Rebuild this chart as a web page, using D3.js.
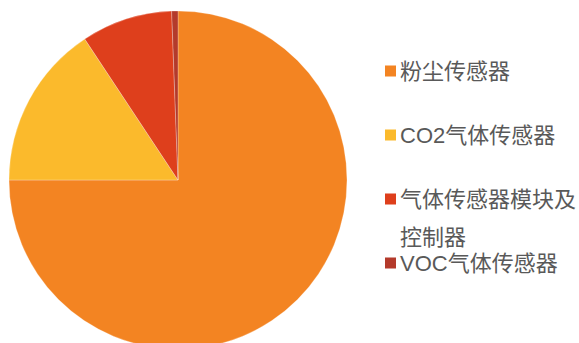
<!DOCTYPE html>
<html>
<head>
<meta charset="utf-8">
<script src="https://cdn.jsdelivr.net/npm/d3@7/dist/d3.min.js"></script>
<style>
  html, body { margin: 0; padding: 0; background: #fff; overflow: hidden; }
  svg { display: block; }
  text { font-family: "Liberation Sans", "Noto Sans CJK SC", sans-serif; }
</style>
</head>
<body>
<svg id="chart" width="579" height="343"></svg>
<script>
// Sensor market share (%)
const categories = ["粉尘传感器", "CO2气体传感器", "气体传感器模块及控制器", "VOC气体传感器"];
const shares = [75.0, 15.7, 8.7, 0.6];
const colors = ["#F38422", "#FBBA2C", "#DE3F1C", "#B43A2B"];
// Legend labels split into display lines
const legendLines = [["粉尘传感器"], ["CO2气体传感器"], ["气体传感器模块及", "控制器"], ["VOC气体传感器"]];

const svg = d3.select("#chart");
const cx = 178, cy = 180, radius = 169;

const pie = d3.pie().sort(null).value(d => d.value);
const arc = d3.arc().innerRadius(0).outerRadius(radius);
const data = categories.map((c, i) => ({ name: c, value: shares[i] }));

const color = d3.scaleOrdinal().domain(categories).range(colors);

svg.append("g")
  .attr("transform", `translate(${cx},${cy})`)
  .selectAll("path")
  .data(pie(data))
  .join("path")
  .attr("d", arc)
  .attr("fill", d => color(d.data.name))
  .attr("stroke", "#ffffff")
  .attr("stroke-opacity", 0.5)
  .attr("stroke-width", 0.5);

// Legend
const rowY = d3.scalePoint().domain(categories).range([71, 263]);
const items = svg.append("g")
  .selectAll("g")
  .data(categories)
  .join("g")
  .attr("transform", d => `translate(385,${rowY(d)})`);

items.append("rect")
  .attr("x", 0).attr("y", -5.5)
  .attr("width", 11).attr("height", 11)
  .attr("fill", d => color(d));

items.append("text")
  .attr("x", 15)
  .attr("y", 0)
  .attr("fill", "#595959")
  .attr("font-size", "22px")
  .selectAll("tspan")
  .data((d, i) => legendLines[i])
  .join("tspan")
  .attr("x", 15)
  .attr("dy", (d, j) => j === 0 ? "0.35em" : "38px")
  .text(d => d);
</script>
</body>
</html>
